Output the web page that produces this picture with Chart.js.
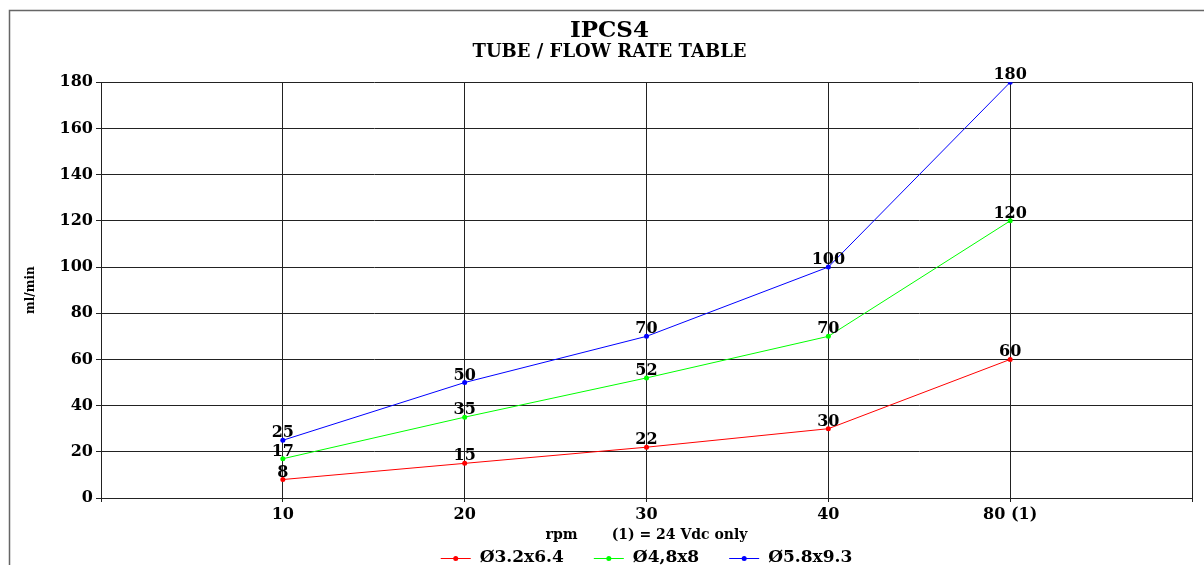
<!DOCTYPE html>
<html>
<head>
<meta charset="utf-8">
<script src="https://cdn.jsdelivr.net/npm/chart.js@4"></script>
<style>
html,body{margin:0;padding:0;background:#fff;}
#wrap{width:1204px;height:565px;position:relative;}
</style>
</head>
<body>
<div id="wrap"><canvas id="c" width="1204" height="565"></canvas></div>
<script>
const categories = ['10', '20', '30', '40', '80 (1)'];
const seriesNames = ['Ø3.2x6.4', 'Ø4,8x8', 'Ø5.8x9.3'];
const tube32 = [8, 15, 22, 30, 60];
const tube48 = [17, 35, 52, 70, 120];
const tube58 = [25, 50, 70, 100, 180];
const seriesColors = ['#ff0000', '#00ff00', '#0000ff'];
const yTicks = [0, 20, 40, 60, 80, 100, 120, 140, 160, 180];

const FONT = "'DejaVu Serif', 'Liberation Serif', serif";

function toPoints(arr){ return arr.map((v,i)=>({x:i+1, y:v})); }

const seriesValues = [tube32, tube48, tube58];
const datasets = seriesValues.map((vals, k) => ({
  label: seriesNames[k],
  data: toPoints(vals),
  borderColor: seriesColors[k],
  backgroundColor: seriesColors[k],
  borderWidth: 1,
  pointRadius: 2.5,
  pointHoverRadius: 2.5,
  pointBorderWidth: 0,
  tension: 0
}));

const framePlugin = {
  id: 'frame',
  beforeDraw(chart){
    const ctx = chart.ctx;
    ctx.save();
    ctx.strokeStyle = '#666';
    ctx.lineWidth = 1.5;
    ctx.beginPath();
    ctx.moveTo(9.5, 565);
    ctx.lineTo(9.5, 10.5);
    ctx.lineTo(1204, 10.5);
    ctx.stroke();
    ctx.restore();
  }
};

const valueLabels = {
  id: 'valueLabels',
  afterDatasetsDraw(chart){
    const ctx = chart.ctx;
    ctx.save();
    ctx.font = 'bold 16px ' + FONT;
    ctx.fillStyle = '#000';
    ctx.textAlign = 'center';
    ctx.textBaseline = 'alphabetic';
    chart.data.datasets.forEach((ds, di) => {
      const meta = chart.getDatasetMeta(di);
      meta.data.forEach((el, i) => {
        ctx.fillText(String(ds.data[i].y), el.x, el.y - 3);
      });
    });
    ctx.restore();
  }
};

const bottomLegend = {
  id: 'bottomLegend',
  afterDraw(chart){
    const ctx = chart.ctx;
    const ca = chart.chartArea;
    ctx.save();
    ctx.font = 'bold 17px ' + FONT;
    ctx.textBaseline = 'middle';
    ctx.textAlign = 'left';
    const lineLen = 30, gapText = 9, gapItem = 30;
    const items = chart.data.datasets.map(ds => ({
      label: ds.label, color: ds.borderColor,
      w: lineLen + gapText + ctx.measureText(ds.label).width
    }));
    const total = items.reduce((s,it)=>s+it.w,0) + gapItem*(items.length-1);
    let x = (ca.left + ca.right)/2 - total/2;
    const y = 558;
    items.forEach(it => {
      ctx.strokeStyle = it.color;
      ctx.lineWidth = 1;
      ctx.beginPath();
      ctx.moveTo(x, y + 0.5);
      ctx.lineTo(x + lineLen, y + 0.5);
      ctx.stroke();
      ctx.fillStyle = it.color;
      ctx.beginPath();
      ctx.arc(x + lineLen/2, y + 0.5, 2.5, 0, Math.PI*2);
      ctx.fill();
      ctx.fillStyle = '#000';
      ctx.fillText(it.label, x + lineLen + gapText, y);
      x += it.w + gapItem;
    });
    ctx.restore();
  }
};

new Chart(document.getElementById('c'), {
  type: 'line',
  data: { datasets },
  options: {
    responsive: false,
    animation: false,
    events: [],
    layout: { padding: { left: 27, right: 12, top: 10, bottom: 19 } },
    plugins: {
      legend: { display: false },
      tooltip: { enabled: false },
      title: {
        display: true, text: 'IPCS4', color: '#000',
        font: { family: FONT, size: 23, weight: 'bold', lineHeight: 1.1 },
        padding: { top: 8, bottom: 0 }
      },
      subtitle: {
        display: true, text: 'TUBE / FLOW RATE TABLE', color: '#000',
        font: { family: FONT, size: 18, weight: 'bold', lineHeight: 1.0 },
        padding: { top: 0, bottom: 21 }
      }
    },
    scales: {
      x: {
        type: 'linear', min: 0, max: 6,
        afterFit(s){ s.height = 48; },
        afterBuildTicks(s){ s.ticks = [0,1,2,3,4,5,6].map(v=>({value:v})); },
        ticks: {
          stepSize: 1, autoSkip: false, maxRotation: 0, padding: 3,
          color: '#000',
          font: { family: FONT, size: 16, weight: 'bold' },
          callback: v => (v >= 1 && v <= categories.length) ? categories[v-1] : ''
        },
        grid: { color: '#222', lineWidth: 1, tickLength: 4, drawTicks: true },
        border: { color: '#222', width: 1 },
        title: {
          display: true, text: 'rpm       (1) = 24 Vdc only', color: '#000',
          font: { family: FONT, size: 14, weight: 'bold', lineHeight: 1.2 },
          padding: { top: 0, bottom: 2 }
        }
      },
      y: {
        type: 'linear', min: 0, max: 180,
        afterFit(s){ s.width = 74; },
        afterBuildTicks(s){ s.ticks = yTicks.map(v=>({value:v})); },
        ticks: {
          padding: 3, color: '#000',
          font: { family: FONT, size: 16, weight: 'bold' }
        },
        grid: { color: '#222', lineWidth: 1, tickLength: 5 },
        border: { color: '#222', width: 1 },
        title: {
          display: true, text: 'ml/min', color: '#000',
          font: { family: FONT, size: 12, weight: 'bold', lineHeight: 0.6 },
          padding: { top: 0, bottom: 0 }
        }
      }
    }
  },
  plugins: [framePlugin, valueLabels, bottomLegend]
});
</script>
</body>
</html>
